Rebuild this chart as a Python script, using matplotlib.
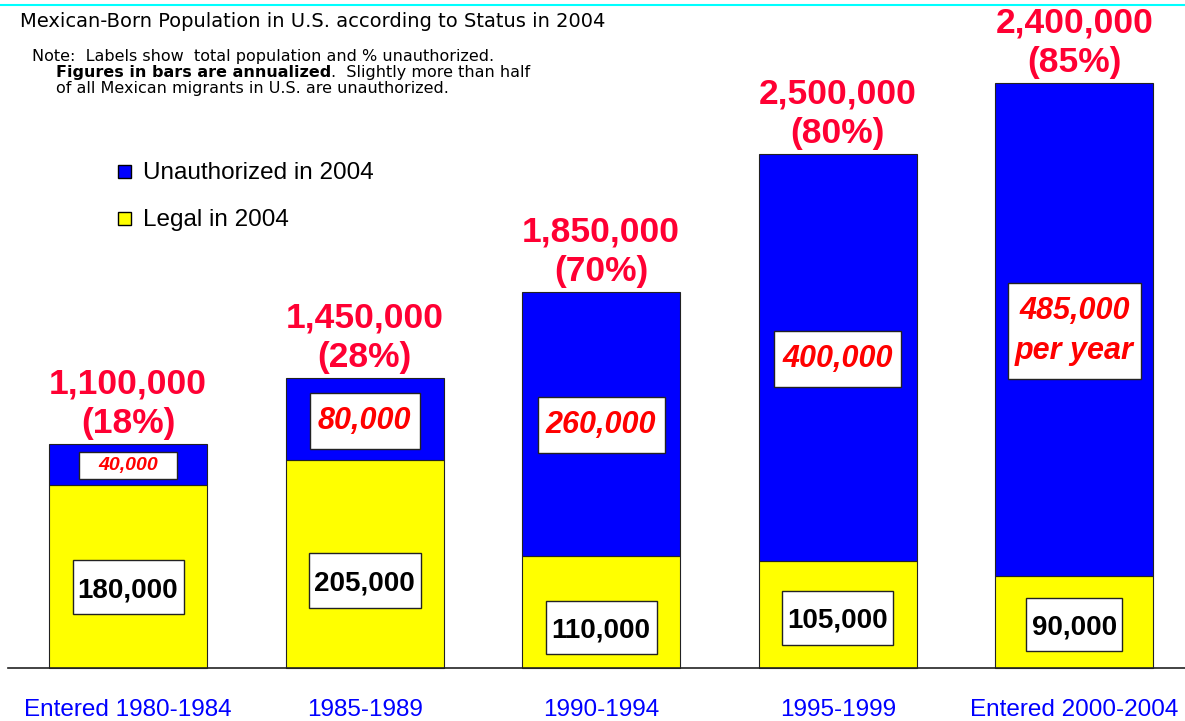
import numpy as np
import matplotlib
matplotlib.use('Agg')
import matplotlib.pyplot as plt
from matplotlib.patches import Rectangle

plt.rcParams['font.family'] = ['Liberation Sans', 'DejaVu Sans']

# data (thousands per year)
periods      = ['Entered 1980-1984', '1985-1989', '1990-1994', '1995-1999', 'Entered 2000-2004']
legal        = [180, 205, 110, 105, 90]
unauthorized = [40, 80, 260, 400, 485]
legal_lbl    = ['180,000', '205,000', '110,000', '105,000', '90,000']
unauth_lbl   = ['40,000', '80,000', '260,000', '400,000', '485,000\nper year']
total_lbl    = ['1,100,000\n(18%)', '1,450,000\n(28%)', '1,850,000\n(70%)', '2,500,000\n(80%)', '2,400,000\n(85%)']

# layout of the white label boxes (pixels: centre y, width, height)
legal_box_y  = [587, 580.5, 627.5, 618, 624.5]
legal_box_w  = [111, 112, 111, 111, 96]
legal_box_h  = [54, 55, 53, 54, 53]
unauth_box_y = [465.5, 421, 425, 359, 331]
unauth_box_w = [98, 110, 127, 127, 133]
unauth_box_h = [27, 56, 56, 56, 96]
unauth_fs    = [14, 22, 22, 22, 22]

W, H    = 1185, 721
step_px = 236.6     # pixels between bar centres
base_px = 668       # pixel row of the zero line
scale   = 1.017     # pixels per thousand
red_tot = '#ff0033'
note_fs = 11.5


def yd(py):
    return (base_px - py) / scale


def fx(px):
    return px / W


def fy(py):
    return 1 - py / H


fig = plt.figure(figsize=(W / 100, H / 100), dpi=100)
ax  = fig.add_axes([0, 0, 1, 1])
ax.set_xlim(-128 / step_px, (W - 128) / step_px)
ax.set_ylim(yd(H), yd(0))
ax.axis('off')

x = np.arange(len(periods))
ax.bar(x, legal, width=158 / step_px, color='#ffff00', edgecolor='#222222', linewidth=0.8, zorder=2)
ax.bar(x, unauthorized, bottom=legal, width=158 / step_px, color='#0000ff', edgecolor='#222222',
       linewidth=0.8, zorder=2)
ax.axhline(0, xmin=8 / W, xmax=1, color='#222222', linewidth=1.2, zorder=3)

for i in range(len(periods)):
    # legal box
    bw = legal_box_w[i] / step_px
    bh = legal_box_h[i] / scale
    cy = yd(legal_box_y[i])
    ax.add_patch(Rectangle((x[i] - bw / 2, cy - bh / 2), bw, bh, facecolor='white',
                           edgecolor='#222222', linewidth=1.0, zorder=4))
    ax.text(x[i], cy, legal_lbl[i], ha='center', va='center_baseline', fontsize=20,
            fontweight='bold', color='black', zorder=5)
    # unauthorized box
    bw = unauth_box_w[i] / step_px
    bh = unauth_box_h[i] / scale
    cy = yd(unauth_box_y[i])
    ax.add_patch(Rectangle((x[i] - bw / 2, cy - bh / 2), bw, bh, facecolor='white',
                           edgecolor='#222222', linewidth=1.0, zorder=4))
    ax.text(x[i], cy, unauth_lbl[i], ha='center', va='center', fontsize=unauth_fs[i],
            fontweight='bold', fontstyle='italic', color='#ff0000', linespacing=1.43, zorder=5)
    # totals
    top = legal[i] + unauthorized[i]
    ax.annotate(total_lbl[i], xy=(x[i], top), xytext=(0, 3.0), textcoords='offset points',
                ha='center', va='bottom', fontsize=25.5, fontweight='bold', color=red_tot,
                linespacing=1.25)
    # period labels
    ax.text(x[i], yd(716), periods[i], ha='center', va='baseline', fontsize=17.5, color='#0000ff')

# cyan rule at the top
fig.add_artist(plt.Line2D([0, 1], [fy(4.5), fy(4.5)], color='#00ffff', linewidth=1.5))

fig.text(fx(20), fy(27), 'Mexican-Born Population in U.S. according to Status in 2004', fontsize=14,
         family='DejaVu Sans', va='baseline', ha='left')
fig.text(fx(32), fy(61), 'Note:  Labels show  total population and % unauthorized.', fontsize=note_fs,
         family='DejaVu Sans', va='baseline', ha='left')
t_bold = fig.text(fx(56), fy(77), 'Figures in bars are annualized', fontsize=note_fs, fontweight='bold',
                  family='DejaVu Sans', va='baseline', ha='left')
fig.canvas.draw()
bb = t_bold.get_window_extent()
fig.text(bb.x1 / W, fy(77), '.  Slightly more than half', fontsize=note_fs, family='DejaVu Sans',
         va='baseline', ha='left')
fig.text(fx(56), fy(93), 'of all Mexican migrants in U.S. are unauthorized.', fontsize=note_fs,
         family='DejaVu Sans', va='baseline', ha='left')

# legend
for (sq_top, base, col, lab) in [(165, 179, '#0000ff', 'Unauthorized in 2004'),
                                  (212, 226, '#ffff00', 'Legal in 2004')]:
    fig.add_artist(Rectangle((fx(118), fy(sq_top + 13)), 13 / W, 13 / H, facecolor=col,
                             edgecolor='black', linewidth=1.0, transform=fig.transFigure))
    fig.text(fx(143), fy(base), lab, fontsize=17.5, va='baseline', ha='left')

fig.savefig('out.png', dpi=100)
